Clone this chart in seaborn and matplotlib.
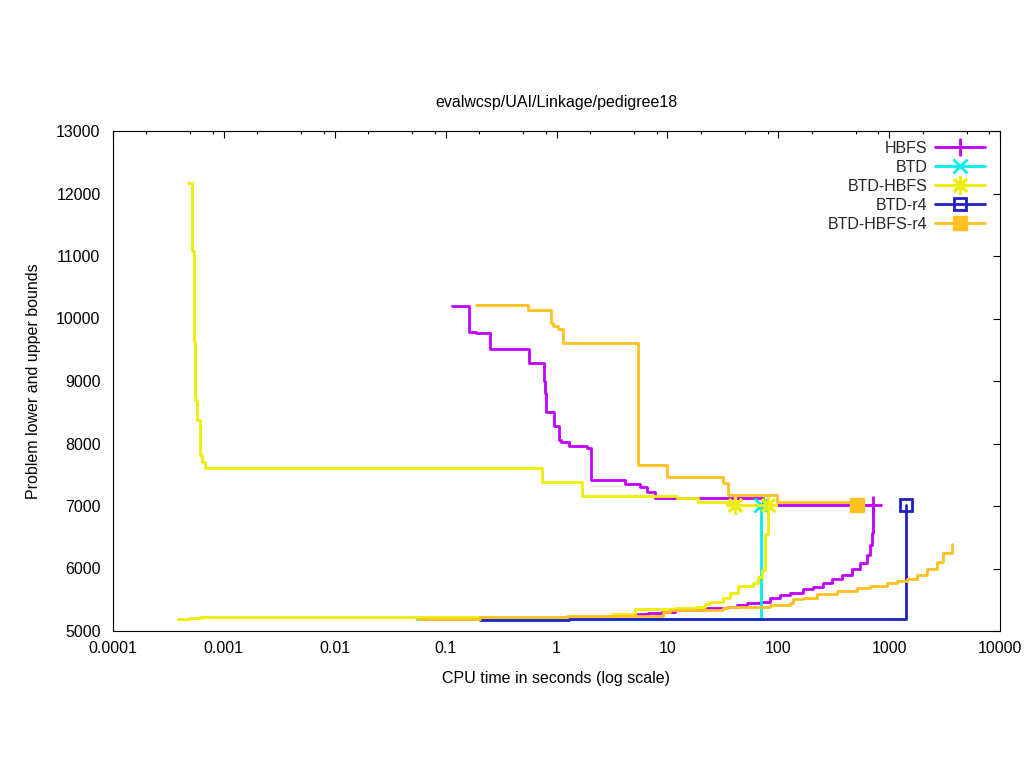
import numpy as np
import pandas as pd
import matplotlib
matplotlib.use("Agg")
import matplotlib.pyplot as plt
from matplotlib.lines import Line2D
from matplotlib.ticker import LogLocator, FixedLocator, NullFormatter
import seaborn as sns

# ---------------- data ----------------
series_names = ["HBFS", "BTD", "BTD-HBFS", "BTD-r4", "BTD-HBFS-r4"]
colors = ["#c000ff", "#00eeee", "#eeee00", "#2020c0", "#ffc020"]

# HBFS
hbfs_up_t = [0.1135, 0.1636, 0.188, 0.251, 0.569, 0.776, 0.794, 0.804, 0.955, 1.06, 1.10, 1.30,
             1.87, 2.05, 4.15, 5.66, 6.51, 7.73, 73.3, 720]
hbfs_up_v = [10200, 9789, 9763, 9507, 9293, 9005, 8803, 8499, 8280, 8056, 8019, 7965,
             7923, 7416, 7352, 7309, 7229, 7123, 7016, 7016]
hbfs_lo_t = [5.3, 6.68, 8.9, 11.7, 21.8, 34.3, 42.2, 51.9, 68.4, 84.2, 103.7, 127.6, 168, 207,
             255, 303, 373, 459, 546, 628, 672, 696, 715, 720]
hbfs_lo_v = [5267, 5283, 5299, 5330, 5373, 5389, 5416, 5443, 5469, 5523, 5576, 5613, 5667, 5709,
             5763, 5827, 5896, 5987, 6083, 6216, 6376, 6563, 6776, 7016]
hbfs_mark_t = [720]
hbfs_mark_v = [7016]

# BTD
btd_lo_t = [0.055, 69.9]
btd_lo_v = [5187, 7016]
btd_mark_t = [69.9]
btd_mark_v = [7016]

# BTD-HBFS
bh_up_t = [0.000475, 0.000521, 0.000538, 0.000552, 0.000576, 0.000609, 0.000635, 0.000669,
           0.735, 1.69, 12.1, 19.0, 40.7, 81.3]
bh_up_v = [12163, 11085, 9629, 8696, 8376, 7816, 7709, 7613,
           7379, 7155, 7123, 7059, 7016, 7016]
bh_lo_t = [0.000383, 0.000495, 0.000609, 3.15, 5.1, 11.7, 18.2, 21.9, 23.7, 31.9, 36.7, 43.4,
           59.6, 65.6, 71.3, 75.5, 81.3]
bh_lo_v = [5187, 5213, 5229, 5267, 5347, 5373, 5389, 5427, 5469, 5523, 5603, 5720,
           5763, 5869, 5976, 6550, 7016]
bh_mark_t = [40.7, 81.3]
bh_mark_v = [7016, 7016]

# BTD-r4
r4_lo_t = [0.204, 1.3, 1409]
r4_lo_v = [5176, 5187, 7016]
r4_mark_t = [1409]
r4_mark_v = [7016]

# BTD-HBFS-r4
bhr4_up_t = [0.188, 0.557, 0.892, 0.924, 1.038, 1.152, 5.47, 9.86, 31.9, 35.4, 96.8, 516]
bhr4_up_v = [10216, 10136, 9923, 9885, 9832, 9613, 7656, 7469, 7363, 7176, 7059, 7059]
bhr4_lo_t = [0.056, 0.204, 1.24, 9.18, 10.6, 31.9, 34.3, 84.2, 127.6, 136.7, 168, 222, 336, 509,
             672, 951, 1170, 1440, 1774, 2183, 2686, 3083, 3664]
bhr4_lo_v = [5187, 5219, 5240, 5309, 5336, 5373, 5389, 5420, 5443, 5507, 5533, 5600, 5648, 5691,
             5728, 5771, 5803, 5827, 5896, 5987, 6109, 6243, 6392]
bhr4_mark_t = [516]
bhr4_mark_v = [7016]

x_tick_vals = [0.0001, 0.001, 0.01, 0.1, 1, 10, 100, 1000, 10000]
x_tick_labels = ["0.0001", "0.001", "0.01", "0.1", "1", "10", "100", "1000", "10000"]
y_tick_vals = [5000, 6000, 7000, 8000, 9000, 10000, 11000, 12000, 13000]

# ---------------- style ----------------
sns.set_theme(style="white")
plt.rcParams["font.family"] = ["Liberation Sans", "DejaVu Sans"]
FS = 11.5

fig = plt.figure(figsize=(10.24, 7.68), dpi=100)
ax = fig.add_axes([113 / 1024, 137 / 768, 887 / 1024, 500 / 768])

lw = 2.0
curves = [
    (hbfs_up_t, hbfs_up_v, 0), (hbfs_lo_t, hbfs_lo_v, 0),
    (btd_lo_t, btd_lo_v, 1),
    (bh_up_t, bh_up_v, 2), (bh_lo_t, bh_lo_v, 2),
    (r4_lo_t, r4_lo_v, 3),
    (bhr4_up_t, bhr4_up_v, 4), (bhr4_lo_t, bhr4_lo_v, 4),
]
markers = [
    dict(marker="+", ms=13, mew=2, mfc=colors[0]),
    dict(marker="x", ms=10, mew=2, mfc=colors[1]),
    dict(marker=(8, 2, 0), ms=13, mew=2, mfc=colors[2]),
    dict(marker="s", ms=8.5, mew=2, mfc="none"),
    dict(marker="s", ms=9.5, mew=1, mfc=colors[4]),
]
mark_data = [(hbfs_mark_t, hbfs_mark_v), (btd_mark_t, btd_mark_v), (bh_mark_t, bh_mark_v),
             (r4_mark_t, r4_mark_v), (bhr4_mark_t, bhr4_mark_v)]

for i in range(5):
    for (t, v, k) in curves:
        if k != i:
            continue
        df = pd.DataFrame({"t": t, "v": v})
        sns.lineplot(data=df, x="t", y="v", ax=ax, color=colors[k], lw=lw,
                     drawstyle="steps-post", estimator=None, sort=False, legend=False)
    mt, mv = mark_data[i]
    m = markers[i]
    ax.plot(mt, mv, ls="none", marker=m["marker"], ms=m["ms"], mew=m["mew"],
            mec=colors[i], mfc=m["mfc"], color=colors[i])

ax.set_xscale("log")
ax.set_xlim(0.0001, 10000)
ax.set_ylim(5000, 13000)
ax.xaxis.set_major_locator(FixedLocator(x_tick_vals))
ax.set_xticklabels(x_tick_labels)
ax.xaxis.set_minor_locator(LogLocator(base=10, subs=[2, 5, 8], numticks=20))
ax.xaxis.set_minor_formatter(NullFormatter())
ax.set_yticks(y_tick_vals)
ax.set_yticklabels([str(v) for v in y_tick_vals])

for s in ax.spines.values():
    s.set_color("black")
    s.set_linewidth(0.8)
ax.tick_params(axis="both", which="both", direction="in", top=True, right=True,
               colors="black", labelsize=FS, width=0.8)
ax.tick_params(axis="both", which="major", length=5)
ax.tick_params(axis="x", which="minor", length=2.5)
ax.tick_params(axis="y", which="major", pad=9)
ax.tick_params(axis="x", which="major", pad=7)

ax.set_xlabel("CPU time in seconds (log scale)", fontsize=FS, color="black", labelpad=11)
ax.set_ylabel("Problem lower and upper bounds", fontsize=FS, color="black", labelpad=11)
ax.set_title("evalwcsp/UAI/Linkage/pedigree18", fontsize=FS, color="black", pad=17)

handles = []
for i in range(5):
    m = markers[i]
    handles.append(Line2D([0], [0], color=colors[i], lw=lw, marker=m["marker"], ms=m["ms"],
                          mew=m["mew"], mec=colors[i], mfc=m["mfc"]))
leg = ax.legend(handles, series_names, loc="upper right", frameon=False, markerfirst=False,
                handlelength=3.1, handletextpad=0.5, labelspacing=0.25, numpoints=1,
                fontsize=FS, borderaxespad=0, borderpad=0,
                bbox_to_anchor=((985 - 113) / 887, (631 - 141) / 500))

fig.savefig("out.png", dpi=100, facecolor="white")
